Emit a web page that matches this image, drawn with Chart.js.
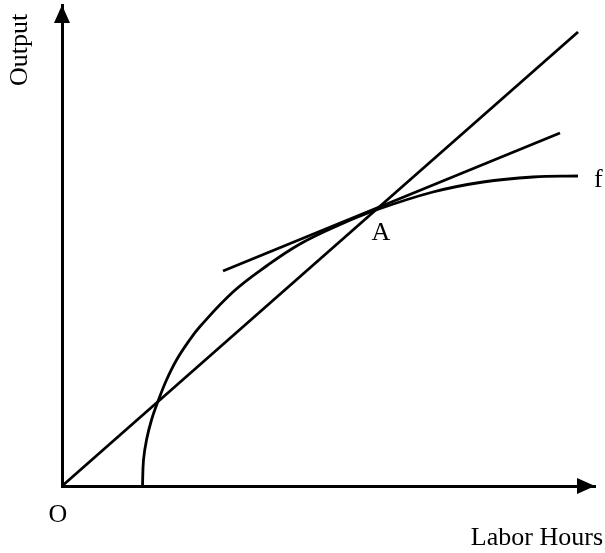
<!DOCTYPE html>
<html>
<head>
<meta charset="utf-8">
<script src="https://cdn.jsdelivr.net/npm/chart.js@4/dist/chart.umd.min.js"></script>
<style>
  body { margin: 0; background: #fff; }
  canvas { display: block; }
</style>
</head>
<body>
<canvas id="myChart" width="605" height="553"></canvas>
<script>
// production function f (labor hours, output)
const curveX = [1.61, 1.63, 1.69, 1.79, 1.93, 2.09, 2.29, 2.53, 2.76, 3.43, 4.09, 4.76, 5.52, 6.28, 7.42, 8.42, 9.42, 10.32];
const curveY = [0, 0.52, 0.92, 1.32, 1.72, 2.12, 2.52, 2.89, 3.19, 3.89, 4.40, 4.84, 5.21, 5.52, 5.88, 6.08, 6.18, 6.20];
// ray from the origin through A
const rayX = [0, 10.32];
const rayY = [0, 9.08];
// tangent at A
const tangentX = [3.22, 9.96];
const tangentY = [4.30, 7.06];
// point A
const pointA = [6.28, 5.52];
const axisLabels = ['Labor Hours', 'Output'];

function toPoints(xs, ys) {
    return xs.map((x, i) => ({ x: x, y: ys[i] }));
}

const labelsPlugin = {
    id: 'labels',
    afterDraw(chart) {
        const ctx = chart.ctx;
        const xs = chart.scales.x;
        const ys = chart.scales.y;
        const x0 = xs.getPixelForValue(0);
        const y0 = ys.getPixelForValue(0);
        const area = chart.chartArea;
        ctx.save();
        ctx.fillStyle = '#000';
        // arrow heads
        ctx.beginPath();
        ctx.moveTo(x0, area.top);
        ctx.lineTo(x0 - 8, area.top + 18);
        ctx.lineTo(x0 + 8, area.top + 18);
        ctx.closePath();
        ctx.fill();
        ctx.beginPath();
        ctx.moveTo(area.right, y0);
        ctx.lineTo(area.right - 18, y0 - 8);
        ctx.lineTo(area.right - 18, y0 + 8);
        ctx.closePath();
        ctx.fill();
        // text
        ctx.font = '26px "Liberation Serif", serif';
        ctx.textBaseline = 'alphabetic';
        ctx.textAlign = 'center';
        ctx.fillText('O', x0 - 4, y0 + 36);
        ctx.fillText('A', xs.getPixelForValue(pointA[0]) + 5, ys.getPixelForValue(pointA[1]) + 30);
        ctx.textAlign = 'left';
        ctx.fillText('f', xs.getPixelForValue(curveX[curveX.length - 1]) + 16, ys.getPixelForValue(curveY[curveY.length - 1]) + 11);
        ctx.textAlign = 'right';
        ctx.fillText(axisLabels[0], 603, 545);
        ctx.translate(27, 50);
        ctx.rotate(-Math.PI / 2);
        ctx.textAlign = 'center';
        ctx.fillText(axisLabels[1], 0, 0);
        ctx.restore();
    }
};

const ctx = document.getElementById('myChart').getContext('2d');
const myChart = new Chart(ctx, {
    type: 'scatter',
    data: {
        datasets: [{
            label: 'f',
            data: toPoints(curveX, curveY),
            showLine: true,
            tension: 0.4,
            borderColor: '#000',
            borderWidth: 2.8,
            pointRadius: 0
        }, {
            label: 'ray',
            data: toPoints(rayX, rayY),
            showLine: true,
            borderColor: '#000',
            borderWidth: 2.8,
            pointRadius: 0
        }, {
            label: 'tangent',
            data: toPoints(tangentX, tangentY),
            showLine: true,
            borderColor: '#000',
            borderWidth: 2.8,
            pointRadius: 0
        }]
    },
    options: {
        responsive: false,
        animation: false,
        layout: { padding: { left: 54, right: 10, top: 5, bottom: 59 } },
        plugins: {
            legend: { display: false },
            tooltip: { enabled: false }
        },
        scales: {
            x: {
                type: 'linear',
                min: 0,
                max: 10.66,
                grid: { display: false },
                ticks: { display: false },
                border: { display: true, color: '#000', width: 3 }
            },
            y: {
                type: 'linear',
                min: 0,
                max: 9.62,
                grid: { display: false },
                ticks: { display: false },
                border: { display: true, color: '#000', width: 3 }
            }
        }
    },
    plugins: [labelsPlugin]
});
</script>
</body>
</html>
